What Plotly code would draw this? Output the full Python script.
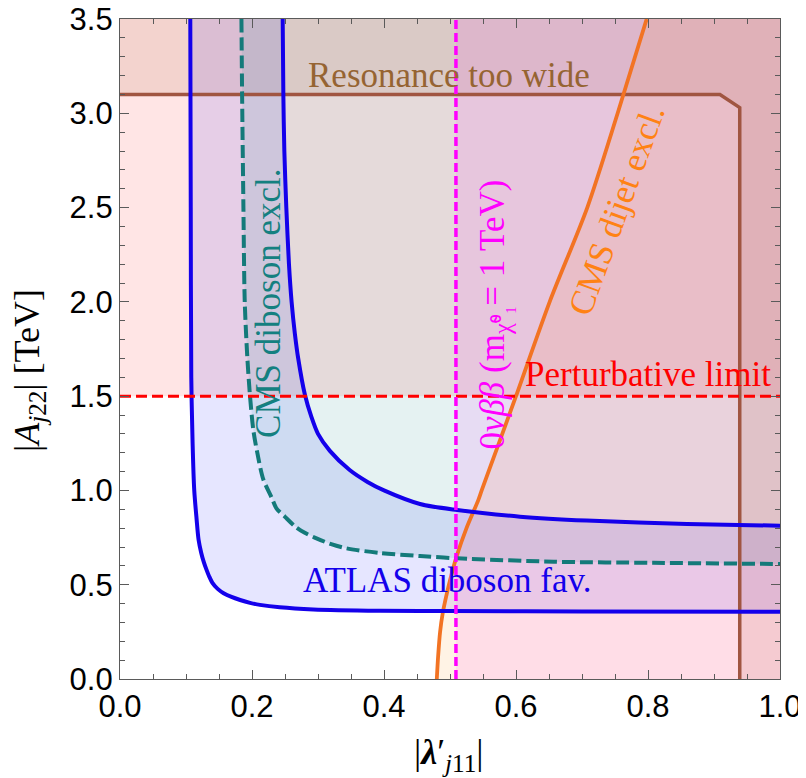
import plotly.graph_objects as go

# ---- data ----
X_RANGE = [0.0, 1.0]
Y_RANGE = [0.0, 3.5]

# ATLAS diboson favoured band: inner (lower-left) boundary
atlas_in_x = [0.1065, 0.1072, 0.108, 0.110, 0.1125, 0.116, 0.119, 0.123, 0.127, 0.131, 0.135, 0.140,
              0.148, 0.157, 0.169, 0.182, 0.197, 0.212, 0.242, 0.293, 0.394, 0.5, 0.7, 1.0]
atlas_in_y = [3.5, 2.5, 1.6, 1.25, 1.0, 0.85, 0.74, 0.67, 0.62, 0.58, 0.545, 0.51,
              0.478, 0.455, 0.435, 0.419, 0.404, 0.393, 0.380, 0.369, 0.362, 0.360, 0.358, 0.356]
# outer (upper-right) boundary
atlas_out_x = [0.2465, 0.2475, 0.249, 0.252, 0.256, 0.260, 0.265, 0.270, 0.280, 0.290, 0.300,
               0.318, 0.348, 0.375, 0.400, 0.4545, 0.511, 0.606, 0.707, 0.859, 1.0]
atlas_out_y = [3.5, 3.1, 2.8, 2.5, 2.2, 2.0, 1.83, 1.70, 1.51, 1.39, 1.30,
               1.21, 1.108, 1.045, 1.0, 0.928, 0.896, 0.861, 0.840, 0.822, 0.813]
# CMS diboson exclusion (dashed)
cms_x = [0.184, 0.185, 0.187, 0.189, 0.193, 0.197, 0.202, 0.208, 0.217, 0.230, 0.237, 0.250,
         0.265, 0.280, 0.295, 0.320, 0.343, 0.394, 0.4545, 0.511, 0.657, 0.808, 1.0]
cms_y = [3.5, 3.1, 2.5, 2.0, 1.7, 1.5, 1.32, 1.2, 1.06, 0.96, 0.905, 0.86,
         0.81, 0.775, 0.75, 0.715, 0.693, 0.668, 0.652, 0.640, 0.622, 0.616, 0.610]
# CMS dijet exclusion
dijet_x = [0.480, 0.482, 0.485, 0.489, 0.495, 0.502, 0.510, 0.525, 0.543, 0.548, 0.574,
           0.600, 0.651, 0.708, 0.754, 0.798]
dijet_y = [0.0, 0.12, 0.25, 0.35, 0.45, 0.55, 0.65, 0.80, 0.95, 1.0, 1.25,
           1.5, 2.0, 2.5, 3.0, 3.5]
# Resonance too wide boundary
width_x = [0.0, 0.909, 0.939, 0.939]
width_y = [3.1, 3.1, 3.03, 0.0]
# 0vbb bound and perturbative limit
onbb_x = 0.509
pert_y = 1.5

# ---- styling ----
SERIF = "Liberation Serif"
SANS = "Liberation Sans"
LBL = 35

fig = go.Figure()

def poly(xs, ys, color):
    fig.add_trace(go.Scatter(x=xs, y=ys, mode="lines", fill="toself", fillcolor=color,
                             line=dict(width=0), hoverinfo="skip", showlegend=False))

x0, x1 = X_RANGE
y0, y1 = Y_RANGE
# perturbative limit region
poly([x0, x1, x1, x0], [pert_y, pert_y, y1, y1], "rgba(255,0,0,0.10)")
# resonance too wide region
poly(width_x + [x1, x1, x0], width_y + [y0, y1, y1], "rgba(160,80,40,0.12)")
# ATLAS favoured band
poly(atlas_in_x + atlas_out_x[::-1], atlas_in_y + atlas_out_y[::-1], "rgba(10,10,255,0.10)")
# CMS diboson excluded
poly(cms_x + [x1], cms_y + [y1], "rgba(0,128,128,0.10)")
# dijet excluded
poly(dijet_x + [x1, x1], dijet_y + [y1, y0], "rgba(255,140,0,0.10)")
# 0vbb excluded
poly([onbb_x, x1, x1, onbb_x], [y0, y0, y1, y1], "rgba(255,0,255,0.09)")

def line(xs, ys, color, width, dash="solid", shape="linear"):
    fig.add_trace(go.Scatter(x=xs, y=ys, mode="lines",
                             line=dict(color=color, width=width, dash=dash, shape=shape, smoothing=0.8),
                             hoverinfo="skip", showlegend=False))

line(width_x, width_y, "rgb(160,85,65)", 3.5)
line(dijet_x, dijet_y, "rgb(242,115,35)", 3.8, shape="spline")
line(cms_x, cms_y, "rgb(20,122,122)", 4, "13px,5px", shape="spline")
line(atlas_in_x, atlas_in_y, "rgb(20,0,235)", 4, shape="spline")
line(atlas_out_x, atlas_out_y, "rgb(20,0,235)", 4, shape="spline")
line([x0, x1], [pert_y, pert_y], "rgb(255,0,0)", 3, "11px,5px")
line([onbb_x, onbb_x], [y0, y1], "rgb(255,0,255)", 3.5, "9px,4px")

ann = [
    dict(x=0.498, y=3.20, text="Resonance too wide", color="rgb(150,100,50)", angle=0, size=LBL),
    dict(x=0.80, y=1.615, text="Perturbative limit", color="rgb(255,0,0)", angle=0, size=LBL),
    dict(x=0.496, y=0.525, text="ATLAS diboson fav.", color="rgb(20,0,235)", angle=0, size=LBL),
    dict(x=0.226, y=1.99, text="CMS diboson excl.", color="rgb(20,128,128)", angle=-90, size=LBL),
    dict(x=0.566, y=1.93, text="0<i>νββ</i> (m<sub>χ̃⁰₁</sub>= 1 TeV)", color="rgb(255,0,255)",
         angle=-90, size=LBL),
    dict(x=0.753, y=2.49, text="CMS dijet excl.", color="rgb(255,130,20)", angle=-70, size=LBL),
]
for a in ann:
    fig.add_annotation(x=a["x"], y=a["y"], xref="x", yref="y", text=a["text"], showarrow=False,
                       textangle=a["angle"], font=dict(family=SERIF, size=a["size"], color=a["color"]),
                       xanchor="center", yanchor="middle")

# axis titles
fig.add_annotation(x=0.499, y=-0.115, xref="paper", yref="paper", showarrow=False,
                   text="|<b><i>λ</i></b>′<sub><i>j</i>11</sub>|",
                   font=dict(family=SERIF, size=36, color="black"), xanchor="center", yanchor="middle")
fig.add_annotation(x=-0.138, y=0.468, xref="paper", yref="paper", showarrow=False, textangle=-90,
                   text="|<i>A</i><sub><i>j</i>22</sub>| [TeV]",
                   font=dict(family=SERIF, size=36, color="black"), xanchor="center", yanchor="middle")

axcommon = dict(showgrid=False, zeroline=False, showline=True, linecolor="rgb(90,90,90)", linewidth=1.2,
                mirror="ticks", ticks="inside", ticklen=9, tickwidth=1.2, tickcolor="rgb(90,90,90)",
                tickfont=dict(family=SANS, size=31, color="black"), tickformat=".1f", automargin=False,
                ticklabeloverflow="allow")
fig.update_xaxes(range=X_RANGE, dtick=0.2, tick0=0,
                 minor=dict(dtick=0.05, ticks="inside", ticklen=5, tickcolor="rgb(90,90,90)"), **axcommon)
fig.update_yaxes(range=Y_RANGE, dtick=0.5, tick0=0,
                 minor=dict(dtick=0.1, ticks="inside", ticklen=5, tickcolor="rgb(90,90,90)"), **axcommon)

# the page body adds an 8px offset, so the figure is sized/placed to compensate
fig.update_layout(width=798, height=770, margin=dict(l=112, r=26, t=11, b=99),
                  plot_bgcolor="white", paper_bgcolor="white", showlegend=False)

fig.write_html("out.html")
